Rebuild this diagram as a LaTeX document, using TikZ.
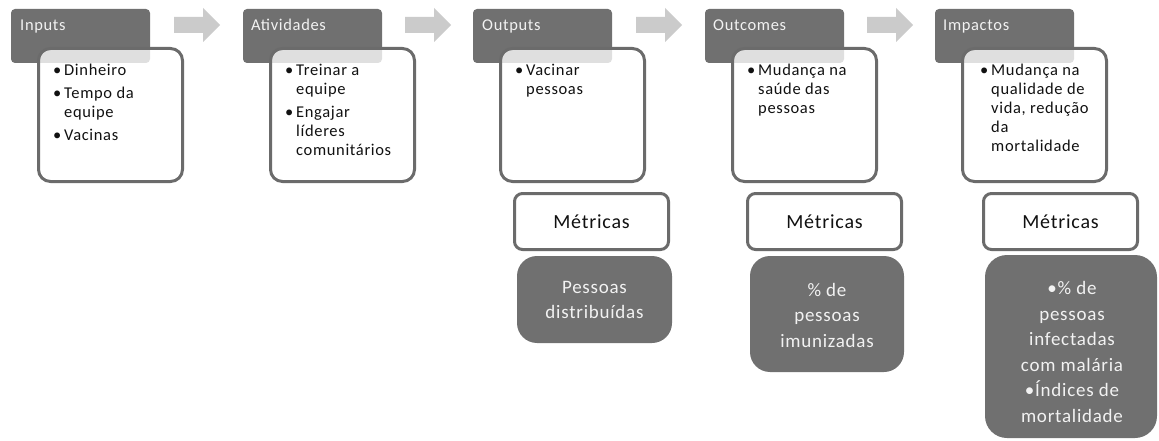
\documentclass[tikz,border=0pt]{standalone}
\usepackage{fontspec}
\setmainfont{Carlito}[LetterSpace=4]
\definecolor{hdrgray}{HTML}{707070}
\definecolor{rimgray}{HTML}{6B6B6B}
\definecolor{arwgray}{HTML}{CBCBCB}
\definecolor{lite}{HTML}{F2F2F2}
\definecolor{ink}{HTML}{111111}
% bullet item with hanging indent
\newcommand{\bitem}[1]{\par\hangindent=11pt\hangafter=1\noindent\makebox[11pt][l]{\textbullet}#1}
\newcommand{\gap}{\par\vspace{4pt}}
\newcommand{\blist}[1]{\parbox[t]{120pt}{\raggedright\fontsize{16.5}{19}\selectfont #1}}
\begin{document}
\begin{tikzpicture}[x=1pt,y=-1pt,
  hdr/.style={fill=hdrgray, rounded corners=4pt, minimum width=139pt, minimum height=54pt, inner sep=0pt},
  card/.style={draw=rimgray, line width=3pt, fill=white, fill opacity=0.78, draw opacity=1,
    rounded corners=12pt, minimum width=144pt, minimum height=133pt, inner sep=0pt},
  htxt/.style={text=lite, font=\fontsize{16.5}{19}\selectfont, anchor=base west, inner sep=0pt},
  btxt/.style={text=ink, anchor=base west, inner sep=0pt},
  metbox/.style={draw=rimgray, line width=3pt, fill=white, rounded corners=8pt,
    minimum width=154pt, minimum height=56pt, inner sep=0pt, text=ink, font=\fontsize{20}{24}\selectfont},
  gbox/.style={fill=hdrgray, rounded corners=20pt, inner sep=0pt},
  gtxt/.style={text=lite, align=center, font=\fontsize{19}{25.5}\selectfont, inner sep=0pt},
  arw/.style={fill=arwgray}
]
\useasboundingbox (0,0) rectangle (1159,441);

% block arrows between stages
\foreach \ax in {174,405,636,867}{
  \fill[arw] (\ax,17) -- (\ax+29,17) -- (\ax+29,8) -- (\ax+46,25) -- (\ax+29,42)
    -- (\ax+29,33) -- (\ax,33) -- cycle;
}

% stage headers
\node[hdr] (h1) at (80.5,36) {};
\node[hdr] (h2) at (312.5,36) {};
\node[hdr] (h3) at (542.5,36) {};
\node[hdr] (h4) at (774.5,36) {};
\node[hdr] (h5) at (1004.5,36) {};
\node[htxt] (ht1) at (20,31) {Inputs};
\node[htxt] (ht2) at (251,31) {Atividades};
\node[htxt] (ht3) at (482,31) {Outputs};
\node[htxt] (ht4) at (713,31) {Outcomes};
\node[htxt] (ht5) at (943,31) {Impactos};

% content cards
\node[card] (c1) at (110.5,115) {};
\node[card] (c2) at (342.5,115) {};
\node[card] (c3) at (572.5,115) {};
\node[card] (c4) at (804.5,115) {};
\node[card] (c5) at (1034.5,115) {};

\node[btxt] (b1) at (53,76) {\blist{\bitem{Dinheiro}\gap\bitem{Tempo da\newline equipe}\gap\bitem{Vacinas}}};
\node[btxt] (b2) at (285,76) {\blist{\bitem{Treinar a\newline equipe}\gap\bitem{Engajar\newline líderes\newline comunitários}}};
\node[btxt] (b3) at (515,76) {\blist{\bitem{Vacinar\newline pessoas}}};
\node[btxt] (b4) at (747,76) {\blist{\bitem{Mudança na\newline saúde das\newline pessoas}}};
\node[btxt] (b5) at (980,76) {\blist{\bitem{Mudança na\newline qualidade de\newline vida, redução\newline da\newline mortalidade}}};

% metric headings
\node[metbox] (m3) at (591.5,221.5) {Métricas};
\node[metbox] (m4) at (824.5,221.5) {Métricas};
\node[metbox] (m5) at (1060.5,221.5) {Métricas};

% metric values
\node[gbox, minimum width=155pt, minimum height=87pt] (g3) at (594.5,299.5) {};
\node[gbox, minimum width=154pt, minimum height=116pt] (g4) at (827,314) {};
\node[gbox, rounded corners=22pt, minimum width=172pt, minimum height=183pt] (g5) at (1071,346.5) {};
\node[gtxt] (gt3) at (594.5,300) {Pessoas\\distribuídas};
\node[gtxt] (gt4) at (827,315) {\% de\\pessoas\\imunizadas};
\node[gtxt] (gt5) at (1072,352) {\textbullet\% de\\pessoas\\infectadas\\com malária\\\textbullet Índices de\\mortalidade};
\end{tikzpicture}
\end{document}
